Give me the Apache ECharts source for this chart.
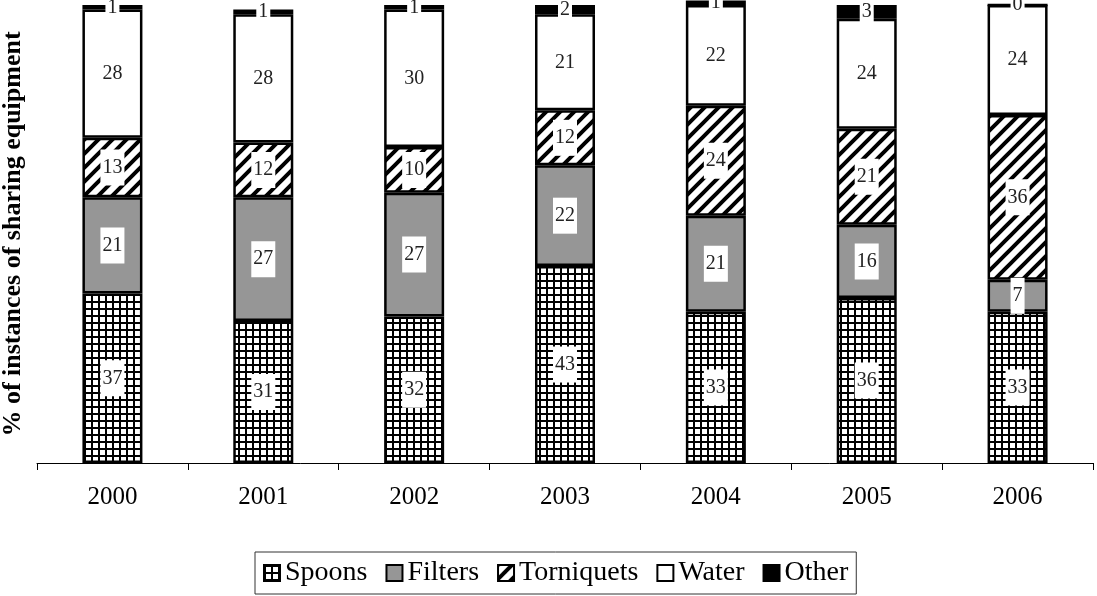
<!DOCTYPE html>
<html>
<head>
<meta charset="utf-8">
<script src="https://cdn.jsdelivr.net/npm/echarts@6/dist/echarts.min.js"></script>
<style>
  html, body { margin: 0; padding: 0; background: #fff; }
  #chart { width: 1097px; height: 596px; }
</style>
</head>
<body>
<div id="chart"></div>
<script>
// Shares of sharing-equipment instances by year (%)
const years = ['2000', '2001', '2002', '2003', '2004', '2005', '2006'];
const spoons = [37, 31, 32, 43, 33, 36, 33];
const filters = [21, 27, 27, 22, 21, 16, 7];
const torniquets = [13, 12, 10, 12, 24, 21, 36];
const water = [28, 28, 30, 21, 22, 24, 24];
const other = [1, 1, 1, 2, 1, 3, 0];

const SERIF = '"Liberation Serif", "DejaVu Serif", serif';

// Fill patterns
function gridPattern() {
  const c = document.createElement('canvas');
  c.width = 7; c.height = 7;
  const g = c.getContext('2d');
  g.fillStyle = '#fff'; g.fillRect(0, 0, 7, 7);
  g.fillStyle = '#000';
  g.fillRect(0, 0, 7, 2);
  g.fillRect(0, 0, 2, 7);
  return { image: c, repeat: 'repeat' };
}
function stripePattern() {
  const s = 14;
  const c = document.createElement('canvas');
  c.width = s; c.height = s;
  const g = c.getContext('2d');
  g.fillStyle = '#fff'; g.fillRect(0, 0, s, s);
  g.strokeStyle = '#000'; g.lineWidth = 4;
  g.beginPath();
  g.moveTo(-s, s); g.lineTo(s, -s);
  g.moveTo(0, s); g.lineTo(s, 0);
  g.moveTo(0, 2 * s); g.lineTo(2 * s, 0);
  g.stroke();
  return { image: c, repeat: 'repeat' };
}

const labelStyle = {
  show: true,
  position: 'inside',
  fontFamily: SERIF,
  fontSize: 20,
  color: '#222',
  backgroundColor: '#fff',
  padding: [8, 2],
  lineHeight: 20
};

function barSeries(name, data, color) {
  return {
    name: name,
    type: 'bar',
    stack: 'total',
    barWidth: 60,
    clip: false,
    data: data,
    itemStyle: { color: color, borderColor: '#000', borderWidth: 2.5 },
    label: labelStyle
  };
}

const chart = echarts.init(document.getElementById('chart'), null, { renderer: 'canvas' });
chart.setOption({
  animation: false,
  backgroundColor: '#fff',
  grid: { left: 37, right: 4, top: 5, bottom: 133, outerBoundsMode: 'none' },
  xAxis: {
    type: 'category',
    data: years,
    axisLine: { lineStyle: { color: '#000', width: 1 } },
    axisTick: { show: true, length: 7, lineStyle: { color: '#000' } },
    axisLabel: { color: '#000', fontFamily: SERIF, fontSize: 25, margin: 22 }
  },
  yAxis: {
    type: 'value',
    min: 0,
    max: 100,
    axisLine: { show: false },
    axisTick: { show: false },
    axisLabel: { show: false },
    splitLine: { show: false },
    name: '% of instances of sharing equipment',
    nameLocation: 'middle',
    nameGap: 11,
    nameTextStyle: { color: '#000', fontFamily: SERIF, fontSize: 26, fontWeight: 'bold' }
  },
  legend: {
    bottom: 2,
    left: 255,
    icon: 'rect',
    itemWidth: 16,
    itemHeight: 16,
    itemGap: 18,
    padding: [7, 8],
    borderColor: '#333',
    borderWidth: 1,
    textStyle: { color: '#000', fontFamily: SERIF, fontSize: 28 },
    data: ['Spoons', 'Filters', 'Torniquets', 'Water', 'Other']
  },
  series: [
    barSeries('Spoons', spoons, gridPattern()),
    barSeries('Filters', filters, '#969696'),
    barSeries('Torniquets', torniquets, stripePattern()),
    barSeries('Water', water, '#fff'),
    barSeries('Other', other, '#000')
  ]
});
</script>
</body>
</html>
